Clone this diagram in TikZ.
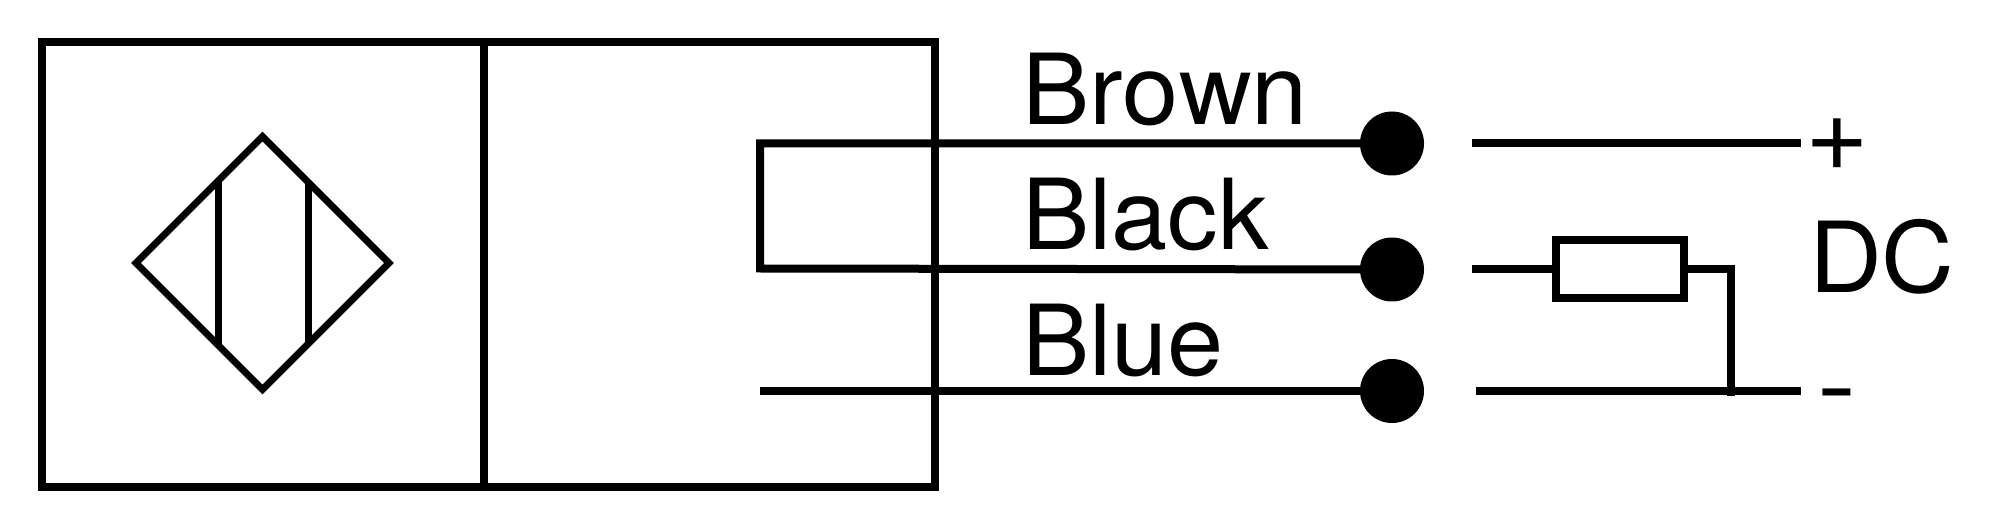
\documentclass[tikz,border=0pt]{standalone}
\usepackage{fontspec}
\setmainfont[Kerning=Off]{TeX Gyre Heros}
\tikzset{
  wire/.style={line width=8pt,line join=miter},
  casebox/.style={draw,line width=8pt,rectangle,inner sep=0pt,outer sep=0pt,minimum height=444.5pt},
  thinline/.style={line width=7pt,line join=miter},
  terminal/.style={circle,fill=black,inner sep=0pt,outer sep=0pt,minimum size=64pt},
  load/.style={draw,rectangle,line width=8pt,inner sep=0pt,outer sep=0pt,minimum width=128pt,minimum height=58pt},
  lbl/.style={anchor=base west,inner sep=0pt,outer sep=0pt,font=\fontsize{98}{98}\selectfont},
  word/.style={lbl,xscale=1.03}
}
\begin{document}
\begin{tikzpicture}[x=1pt,y=-1pt]
\useasboundingbox (0,0) rectangle (1998,529);
% housing
\node[casebox,minimum width=442pt] (sensor) at (263,264.75) {};
\node[casebox,minimum width=451pt] (amp) at (709.5,264.75) {};
% sensing symbol
\coordinate (dT) at (262.5,136.5);
\coordinate (dR) at (389,263);
\coordinate (dB) at (262.5,389.5);
\coordinate (dL) at (136,263);
\draw[thinline] (dT) -- (dR) -- (dB) -- (dL) -- cycle;
\coordinate (c1t) at (218,182);
\coordinate (c1b) at (218,345);
\coordinate (c2t) at (308,182);
\coordinate (c2b) at (308,345);
\draw[thinline] (c1t) -- (c1b);
\draw[thinline] (c2t) -- (c2b);
% terminals
\node[terminal] (tBrown) at (1392,143.5) {};
\node[terminal] (tBlack) at (1392,269.5) {};
\node[terminal] (tBlue) at (1392,391) {};
% inner wiring
\coordinate (wTL) at (760,143.5);
\coordinate (wBL) at (760,268.5);
\coordinate (wBlue) at (760,391);
\draw[wire] (tBrown.center) -- (wTL) -- (wBL) -- (tBlack.center);
\draw[wire] (wBlue) -- (tBlue.center);
% outer wiring
\coordinate (oBrownA) at (1472,143.5);
\coordinate (oBrownB) at (1801,143.5);
\draw[wire] (oBrownA) -- (oBrownB);
\coordinate (oBlackA) at (1472,269.5);
\node[load] (res) at (1620,269) {};
\draw[wire] (oBlackA) -- (oBlackA -| res.west);
\coordinate (oBlueA) at (1476,391);
\coordinate (oBlueB) at (1801,391);
\draw[wire] (oBlueA) -- (oBlueB);
\coordinate (rTurn) at (1731,269.5);
\coordinate (rEnd) at (1731,396);
\draw[wire] (res.east |- rTurn) -- (rTurn) -- (rEnd);
% labels
\node[word] (lBrown) at (1022,125) {Brown};
\node[word] (lBlack) at (1022,250) {Black};
\node[word] (lBlue) at (1022,375) {Blue};
\node[word] (lDC) at (1809,293) {DC};
\node[lbl,font=\fontsize{109}{109}\selectfont] (lPlus) at (1805.5,170.5) {+};
\node[lbl,xscale=1.2] (lMinus) at (1817,419) {-};
\end{tikzpicture}
\end{document}
